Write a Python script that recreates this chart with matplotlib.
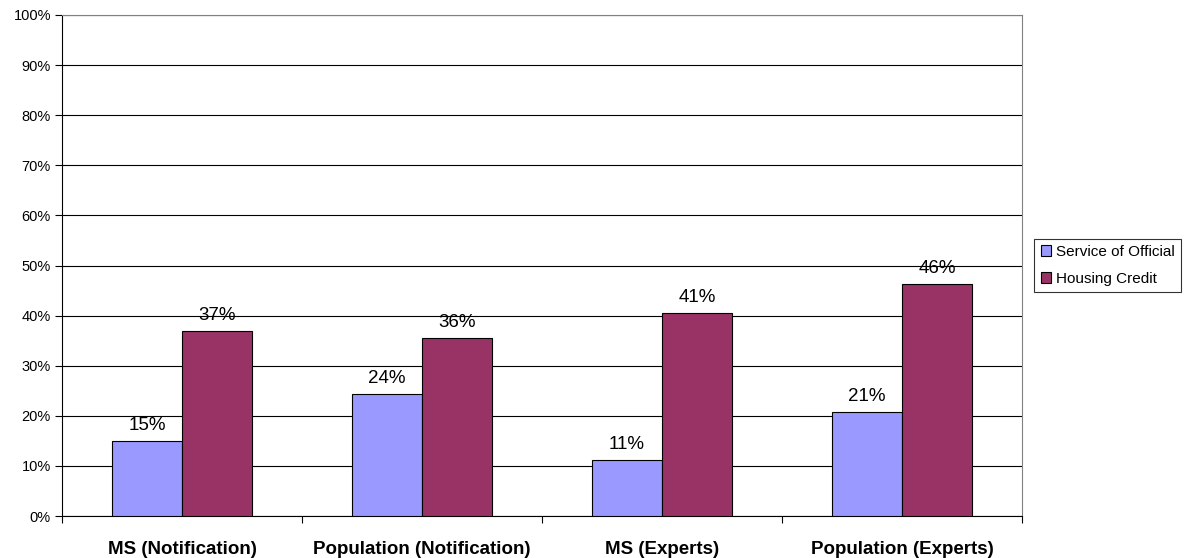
import numpy as np
import matplotlib.pyplot as plt
from matplotlib.ticker import FixedLocator, PercentFormatter

plt.rcParams['font.family'] = ['Liberation Sans', 'DejaVu Sans']

categories = ["MS (Notification)", "Population (Notification)", "MS (Experts)", "Population (Experts)"]
service = [0.149, 0.243, 0.111, 0.208]
housing = [0.370, 0.356, 0.406, 0.463]
service_labels = ["15%", "24%", "11%", "21%"]
housing_labels = ["37%", "36%", "41%", "46%"]

fig = plt.figure(figsize=(11.85, 5.58), dpi=100)
ax = fig.add_axes([62/1185, 42/558, 960/1185, 501/558])

x = np.arange(len(categories))
w = 0.2917
b1 = ax.bar(x - w/2, service, w, color="#9999FF", edgecolor="black", linewidth=0.8,
            label="Service of Official", zorder=3)
b2 = ax.bar(x + w/2, housing, w, color="#993366", edgecolor="black", linewidth=0.8,
            label="Housing Credit", zorder=3)

for bars, labs in ((b1, service_labels), (b2, housing_labels)):
    for r, lab in zip(bars, labs):
        ax.annotate(lab, (r.get_x() + r.get_width()/2, r.get_height()),
                    xytext=(0, 5), textcoords="offset points",
                    ha="center", va="bottom", fontsize=13.5)

ax.set_xlim(-0.5, len(categories) - 0.5)
ax.set_ylim(0, 1)
ax.yaxis.set_major_locator(FixedLocator(np.arange(0, 1.01, 0.1)))
ax.yaxis.set_major_formatter(PercentFormatter(1.0, decimals=0))
ax.grid(axis="y", color="black", linewidth=0.8, zorder=0)
ax.tick_params(axis="y", direction="out", length=5, width=0.8, labelsize=10.5, pad=3)

ax.set_xticks(x)
ax.set_xticklabels(categories, fontsize=13.5, fontweight="bold")
ax.tick_params(axis="x", which="major", length=0, pad=18)
ax.set_xticks(np.arange(-0.5, len(categories), 1.0), minor=True)
ax.tick_params(axis="x", which="minor", direction="out", length=5, width=0.8)

for side in ("top", "right"):
    ax.spines[side].set_color("#808080")
for side in ("left", "bottom"):
    ax.spines[side].set_color("black")
for s in ax.spines.values():
    s.set_linewidth(0.8)

leg = ax.legend(loc="center left", bbox_to_anchor=(1.013, 0.5), fontsize=11,
                frameon=True, fancybox=False, edgecolor="black",
                handlelength=0.7, handleheight=0.7, handletextpad=0.3,
                borderpad=0.4, labelspacing=0.85, borderaxespad=0)
leg.get_frame().set_linewidth(0.8)

fig.savefig("out.png", dpi=100)
